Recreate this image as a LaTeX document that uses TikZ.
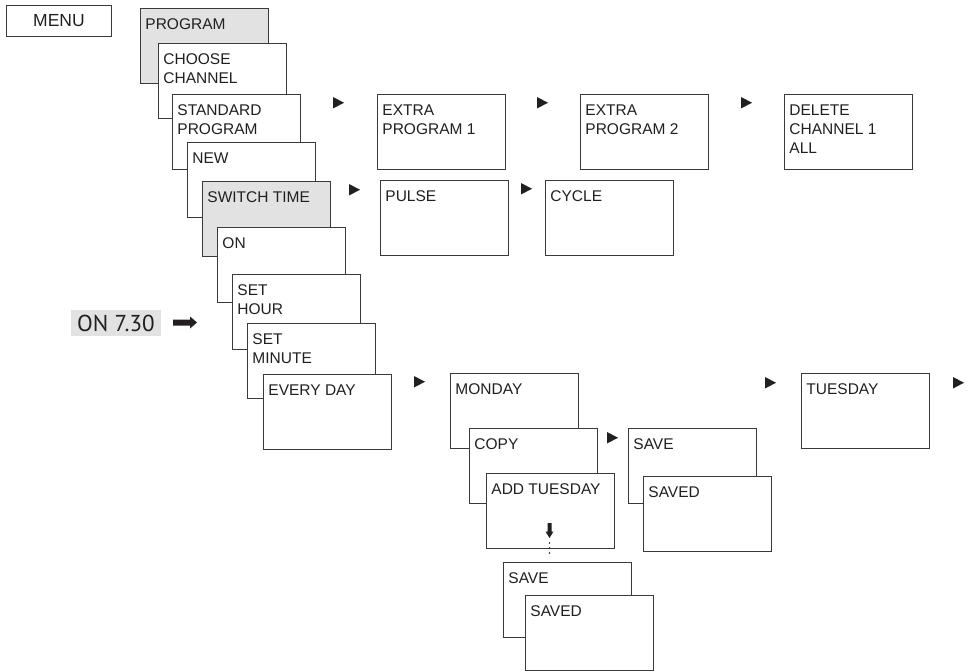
\documentclass[tikz,border=0pt]{standalone}
\usepackage{fontspec}
\setmainfont{Liberation Sans}
\newfontfamily\ptsans{PT Sans}
\definecolor{ink}{HTML}{231F20}
\definecolor{edge}{HTML}{3A3A3A}
\definecolor{shade}{HTML}{E2E2E2}
\newcommand\boxtext[1]{\parbox[t][75pt][t]{128pt}{\fontsize{15.5}{19}\selectfont\raggedright\leftskip=5pt\rule{0pt}{21pt}#1}}
\newcommand\tri[2]{\fill[ink] (#1,#2) -- ++(11,5.75) -- ++(-11,5.75) -- cycle;}
\tikzset{
  menubox/.style={draw=edge, line width=0.9pt, inner sep=0pt, anchor=north west, text=ink, fill=white},
  graybox/.style={menubox, fill=shade},
}
\begin{document}
\begin{tikzpicture}[x=1pt,y=-1pt]
\useasboundingbox (0,0) rectangle (968,671);
% MENU
\node[draw=edge, line width=0.9pt, inner sep=0pt, anchor=north west, minimum width=105pt, minimum height=31pt, text=ink, font=\fontsize{17.5}{20}\selectfont] (menu) at (6,5) {MENU};
% left stack
\node[graybox] (program) at (140,8) {\boxtext{PROGRAM}};
\node[menubox] (choose) at (158,43) {\boxtext{CHOOSE\\CHANNEL}};
\node[menubox] (standard) at (172,94) {\boxtext{STANDARD\\PROGRAM}};
\node[menubox] (new) at (187,142) {\boxtext{NEW}};
\node[graybox] (switch) at (202,181) {\boxtext{SWITCH TIME}};
\node[menubox] (on) at (217,227) {\boxtext{ON}};
\node[menubox] (sethour) at (232,274) {\boxtext{SET\\HOUR}};
\node[menubox] (setmin) at (247,323) {\boxtext{SET\\MINUTE}};
\node[menubox] (everyday) at (263,374) {\boxtext{EVERY DAY}};
% row of programs
\node[menubox] (extra1) at (377,94) {\boxtext{EXTRA\\PROGRAM 1}};
\node[menubox] (extra2) at (580,94) {\boxtext{EXTRA\\PROGRAM 2}};
\node[menubox] (delete) at (784,94) {\boxtext{DELETE\\CHANNEL 1\\ALL}};
% switch time row
\node[menubox] (pulse) at (380,180) {\boxtext{PULSE}};
\node[menubox] (cycle) at (545,180) {\boxtext{CYCLE}};
% days
\node[menubox] (monday) at (450,373) {\boxtext{MONDAY}};
\node[menubox] (copy) at (469,428) {\boxtext{COPY}};
\node[menubox] (addtue) at (486,473) {\boxtext{ADD TUESDAY}};
\node[menubox] (savea) at (628,428) {\boxtext{SAVE}};
\node[menubox] (saveda) at (643,476) {\boxtext{SAVED}};
\node[menubox] (tuesday) at (801,373) {\boxtext{TUESDAY}};
\node[menubox] (saveb) at (503,562) {\boxtext{SAVE}};
\node[menubox] (savedb) at (525,595) {\boxtext{SAVED}};
% ON 7.30 display
\node[fill=shade, anchor=north west, minimum width=90pt, minimum height=26pt, inner sep=0pt] (disp) at (71,310) {};
\node[anchor=base west, inner sep=0pt, text=ink, font=\ptsans\fontsize{23}{26}\selectfont] (disptext) at (77,331) {ON 7.30};
% heavy arrow
\fill[ink] (173,319.5) -- (190,319.5) -- (190,316.5) -- (197,322.5) -- (190,328.5) -- (190,325.5) -- (173,325.5) -- cycle;
% triangles
\tri{333}{97}
\tri{537}{97}
\tri{741}{97}
\tri{349}{184}
\tri{521}{183}
\tri{414}{376}
\tri{765}{377}
\tri{953}{377}
\tri{607}{432}
% down arrow in ADD TUESDAY
\fill[ink] (547.5,523) -- (551.5,523) -- (551.5,531.5) -- (553.5,531.5) -- (549.5,538) -- (545.5,531.5) -- (547.5,531.5) -- cycle;
\foreach \yy in {543,548,553} \fill[ink] (549.5,\yy) circle (0.9);
\end{tikzpicture}
\end{document}
